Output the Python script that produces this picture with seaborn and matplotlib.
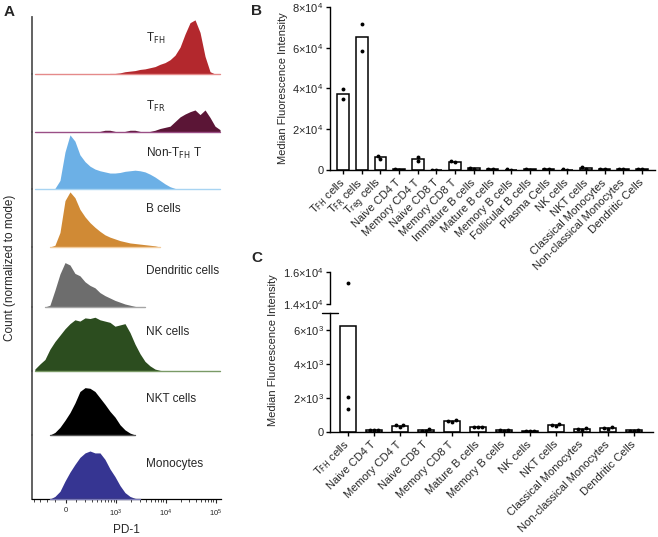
import numpy as np
import pandas as pd
import matplotlib
matplotlib.use("Agg")
import matplotlib.pyplot as plt
import seaborn as sns

sns.set_theme(style="ticks")
plt.rcParams['font.family'] = ['Liberation Sans', 'DejaVu Sans']
plt.rcParams['mathtext.fontset'] = 'custom'
plt.rcParams['mathtext.rm'] = 'Liberation Sans'
plt.rcParams['mathtext.it'] = 'Liberation Sans:italic'
plt.rcParams['mathtext.bf'] = 'Liberation Sans:bold'
plt.rcParams['mathtext.default'] = 'regular'

# ---------------- Panel A data: PD-1 histograms (normalized to mode, %) ----------------
pd1_grid = [-389, -296, -221, -158, -103, -53, -6, 40, 88, 141, 203, 274, 360, 465, 594,
            757, 960, 1214, 1532, 1932, 2434, 3068, 3864, 4866, 6130, 7720, 9720, 12230,
            15400, 19400, 24420, 30740, 38720, 48740, 61360, 77300, 97300, 122500]
N = np.nan
hist_tfh = [0]*15 + [1, 1, 2, 4, 5, 6, 8, 9, 11, 13, 17, 20, 25, 33, 47, 70, 90, 95, 73, 31, 4, 0, 0]
hist_tfr = [0]*13 + [1, 3, 3, 1, 0, 1, 3, 3, 1, 0, 1, 3, 6, 8, 10, 18, 26, 31, 35, 38, 30, 38, 25, 10, 4]
hist_nontfh = [0, 0, 0, 0, 1, 15, 65, 95, 84, 60, 48, 40, 35, 32, 30, 28, 28, 29, 31, 32, 33, 32,
               30, 26, 21, 15, 9, 4, 1] + [0]*9
hist_b = [N]*3 + [0, 3, 25, 80, 95, 85, 65, 52, 42, 34, 27, 21, 17, 14, 11, 9, 7, 6, 5, 4, 3, 2, 0] + [N]*12
hist_dc = [N]*2 + [0, 3, 28, 55, 74, 70, 56, 52, 42, 36, 32, 24, 19, 15, 11, 8, 5, 3, 1, 0, 0] + [N]*15
hist_nk = [3, 11, 18, 34, 46, 56, 66, 74, 80, 78, 83, 82, 84, 80, 78, 76, 70, 72, 74, 60, 42, 27,
           15, 8, 3, 1] + [0]*12
hist_nkt = [N]*3 + [0, 4, 12, 23, 35, 50, 68, 74, 73, 68, 58, 48, 37, 28, 16, 8, 3, 0] + [N]*17
hist_mono = [N]*3 + [0, 4, 12, 28, 42, 54, 65, 72, 75, 72, 72, 62, 47, 35, 21, 10, 4, 1, 0] + [N]*16

hist_names = [r"T$_{\mathsf{FH}}$", r"T$_{\mathsf{FR}}$", r"Non-T$_{\mathsf{FH}}$ T", "B cells",
              "Dendritic cells", "NK cells", "NKT cells", "Monocytes"]
hist_values = [hist_tfh, hist_tfr, hist_nontfh, hist_b, hist_dc, hist_nk, hist_nkt, hist_mono]
hist_fill = ["#b3282d", "#5b1536", "#6cb0e6", "#d08a35", "#6d6d6d", "#2c4d1f", "#000000", "#363592"]
hist_base = ["#e58a8a", "#9a4f86", "#a8d4f2", "#f2cc9e", "#a5a5a5", "#7a9a66", "#555555", "#7a7ab8"]

pd1_major = [0, 1000, 10000, 100000]
pd1_major_labels = ["0", r"10$^{3}$", r"10$^{4}$", r"10$^{5}$"]
pd1_minor = [-400, -300, -200, -100, 100, 200, 300, 400, 500, 600, 700, 800, 900,
             2000, 3000, 4000, 5000, 6000, 7000, 8000, 9000,
             20000, 30000, 40000, 50000, 60000, 70000, 80000, 90000]

# ---------------- Panel B data ----------------
b_cells = ["TFH cells", "TFR cells", "Treg cells", "Naive CD4 T", "Memory CD4 T", "Naive CD8 T",
           "Memory CD8 T", "Immature B cells", "Mature B cells", "Memory B cells",
           "Follicular B cells", "Plasma Cells", "NK cells", "NKT cells", "Classical Monocytes",
           "Non-classical Monocytes", "Dendritic Cells"]
b_labels = [r"T$_{\mathsf{FH}}$ cells", r"T$_{\mathsf{FR}}$ cells", r"T$_{\mathsf{reg}}$ cells",
            "Naive CD4 T", "Memory CD4 T", "Naive CD8 T", "Memory CD8 T", "Immature B cells",
            "Mature B cells", "Memory B cells", "Follicular B cells", "Plasma Cells", "NK cells",
            "NKT cells", "Classical Monocytes", "Non-classical Monocytes", "Dendritic Cells"]
b_rep1 = [39700, 71700, 7000, 300, 6500, 200, 4300, 900, 700, 250, 300, 600, 250, 1500, 500, 700, 350]
b_rep2 = [34900, 58600, 5400, 200, 4300, 150, 3700, 700, 500, 200, 200, 400, 200, 700, 350, 550, 250]
b_yticks = [0, 20000, 40000, 60000, 80000]
b_yticklabels = ["0", r"2$\times$10$^{4}$", r"4$\times$10$^{4}$", r"6$\times$10$^{4}$", r"8$\times$10$^{4}$"]

# ---------------- Panel C data ----------------
c_cells = ["TFH cells", "Naive CD4 T", "Memory CD4 T", "Naive CD8 T", "Memory CD8 T",
           "Mature B cells", "Memory B cells", "NK cells", "NKT cells", "Classical Monocytes",
           "Non-classical Monocytes", "Dendritic Cells"]
c_labels = [r"T$_{\mathsf{FH}}$ cells", "Naive CD4 T", "Memory CD4 T", "Naive CD8 T", "Memory CD8 T",
            "Mature B cells", "Memory B cells", "NK cells", "NKT cells", "Classical Monocytes",
            "Non-classical Monocytes", "Dendritic Cells"]
c_rep1 = [15300, 110, 370, 160, 660, 300, 100, 40, 450, 200, 255, 100]
c_rep2 = [2030, 100, 370, 70, 650, 290, 90, 40, 410, 160, 216, 70]
c_rep3 = [1360, 90, 260, 60, 600, 250, 70, 30, 320, 100, 177, 60]
c_low_ticks = [0, 2000, 4000, 6000]
c_low_labels = ["0", r"2$\times$10$^{3}$", r"4$\times$10$^{3}$", r"6$\times$10$^{3}$"]
c_up_ticks = [14000, 16000]
c_up_labels = [r"1.4$\times$10$^{4}$", r"1.6$\times$10$^{4}$"]

# ---------------- Figure ----------------
W, H = 658, 537
fig = plt.figure(figsize=(W / 100, H / 100), dpi=100)


def box(x0, y0, x1, y1):
    """pixel box (top-left origin) -> figure fraction rect"""
    return [x0 / W, 1 - y1 / H, (x1 - x0) / W, (y1 - y0) / H]


# ----- Panel A -----
row_edges = [17, 74, 132, 189, 247, 307, 371, 435, 499]
label_base = [41.7, 110, 156.7, 212.3, 274.3, 335, 401.7, 467.3]
x = np.array(pd1_grid, dtype=float)
axes_a = []
for i in range(8):
    ax = fig.add_axes(box(32, row_edges[i], 221, row_edges[i + 1]))
    ax.set_xscale('asinh', linear_width=200)
    ax.set_xlim(-450, 128000)
    ax.set_ylim(0, 100)
    h = np.array(hist_values[i], dtype=float)
    ax.fill_between(x, 0, h, color=hist_fill[i], lw=0)
    base = np.where(np.isnan(h), np.nan, 0.0)
    ax.plot(x, base, color=hist_base[i], lw=1.0, clip_on=False, zorder=3)
    for s in ['top', 'right', 'bottom']:
        ax.spines[s].set_visible(False)
    ax.spines['left'].set_color('#555555')
    ax.spines['left'].set_linewidth(1.3)
    ax.set_yticks([])
    ax.patch.set_alpha(0)
    if i < 7:
        ax.set_xticks([])
        ax.set_xticks([], minor=True)
    else:
        ax.spines['bottom'].set_visible(True)
        ax.spines['bottom'].set_color('black')
        ax.spines['bottom'].set_linewidth(0.9)
        ax.set_xticks(pd1_major)
        ax.set_xticklabels(pd1_major_labels, fontsize=5.5)
        ax.set_xticks(pd1_minor, minor=True)
        ax.tick_params(axis='x', which='major', length=3, width=0.8, pad=3)
        ax.tick_params(axis='x', which='minor', length=2, width=0.6)
        ax.set_xlabel("PD-1", fontsize=8.5, labelpad=4)
    fig.text(146 / W, 1 - label_base[i] / H, hist_names[i], fontsize=8.5, va='baseline', ha='left')
    axes_a.append(ax)

fig.text(10 / W, 1 - 268 / H, "Count (normalized to mode)", rotation=90, fontsize=8.5,
         ha='center', va='center')
fig.text(9 / W, 1 - 12.5 / H, "A", fontsize=11, fontweight='bold', ha='center', va='center')
fig.text(257 / W, 1 - 11 / H, "B", fontsize=11, fontweight='bold', ha='center', va='center')
fig.text(257 / W, 1 - 257.5 / H, "C", fontsize=11, fontweight='bold', ha='center', va='center')


def style_axis(ax):
    for s in ['top', 'right']:
        ax.spines[s].set_visible(False)
    for s in ['left', 'bottom']:
        ax.spines[s].set_linewidth(1.0)
        ax.spines[s].set_color('black')
    ax.tick_params(axis='both', length=3, width=1.0, labelsize=8, pad=1.5, color='black')


# ----- Panel B -----
df_b = pd.DataFrame({"cell": b_cells * 2, "mfi": b_rep1 + b_rep2})
ax_b = fig.add_axes(box(330, 7, 655, 170))
sns.barplot(data=df_b, x="cell", y="mfi", order=b_cells, errorbar=None, color="white",
            edgecolor="black", linewidth=1.1, width=0.62, ax=ax_b)
sns.swarmplot(data=df_b, x="cell", y="mfi", order=b_cells, color="black", size=2.8, ax=ax_b)
ax_b.set_xlim(-0.7, 16.7)
ax_b.set_ylim(0, 80000)
ax_b.set_yticks(b_yticks)
ax_b.set_yticklabels(b_yticklabels)
ax_b.set_xticks(range(len(b_cells)))
ax_b.set_xticklabels(b_labels, rotation=45, ha='right', va='center', rotation_mode='anchor')
ax_b.set_xlabel("")
ax_b.set_ylabel("")
style_axis(ax_b)
ax_b.tick_params(axis='x', pad=5)
fig.text(283 / W, 1 - 88 / H, "Median Fluorescence Intensity", rotation=90, fontsize=8,
         ha='center', va='center')

# ----- Panel C (broken axis) -----
df_c = pd.DataFrame({"cell": c_cells * 3, "mfi": c_rep1 + c_rep2 + c_rep3})
ax_cl = fig.add_axes(box(330, 312.7, 653, 431.7))
ax_cu = fig.add_axes(box(330, 272, 653, 304))
for ax in (ax_cl, ax_cu):
    sns.barplot(data=df_c, x="cell", y="mfi", order=c_cells, errorbar=None, color="white",
                edgecolor="black", linewidth=1.1, width=0.62, ax=ax)
    sns.swarmplot(data=df_c, x="cell", y="mfi", order=c_cells, color="black", size=2.8, ax=ax)
    ax.set_xlim(-0.68, 11.73)
    ax.set_xlabel("")
    ax.set_ylabel("")
    style_axis(ax)
ax_cl.set_ylim(0, 7000)
ax_cl.set_yticks(c_low_ticks)
ax_cl.set_yticklabels(c_low_labels)
ax_cl.set_xticks(range(len(c_cells)))
ax_cl.set_xticklabels(c_labels, rotation=45, ha='right', va='center', rotation_mode='anchor')
ax_cl.tick_params(axis='x', pad=5)
ax_cl.plot([-0.025, 0.025], [1, 1], transform=ax_cl.transAxes, color='black', lw=1.0,
           clip_on=False)
ax_cu.set_ylim(14000, 16000)
ax_cu.set_yticks(c_up_ticks)
ax_cu.set_yticklabels(c_up_labels)
ax_cu.spines['bottom'].set_visible(False)
ax_cu.set_xticks([])
ax_cu.patch.set_alpha(0)
fig.text(273 / W, 1 - 350 / H, "Median Fluorescence Intensity", rotation=90, fontsize=8,
         ha='center', va='center')

fig.savefig("out.png", dpi=100)
